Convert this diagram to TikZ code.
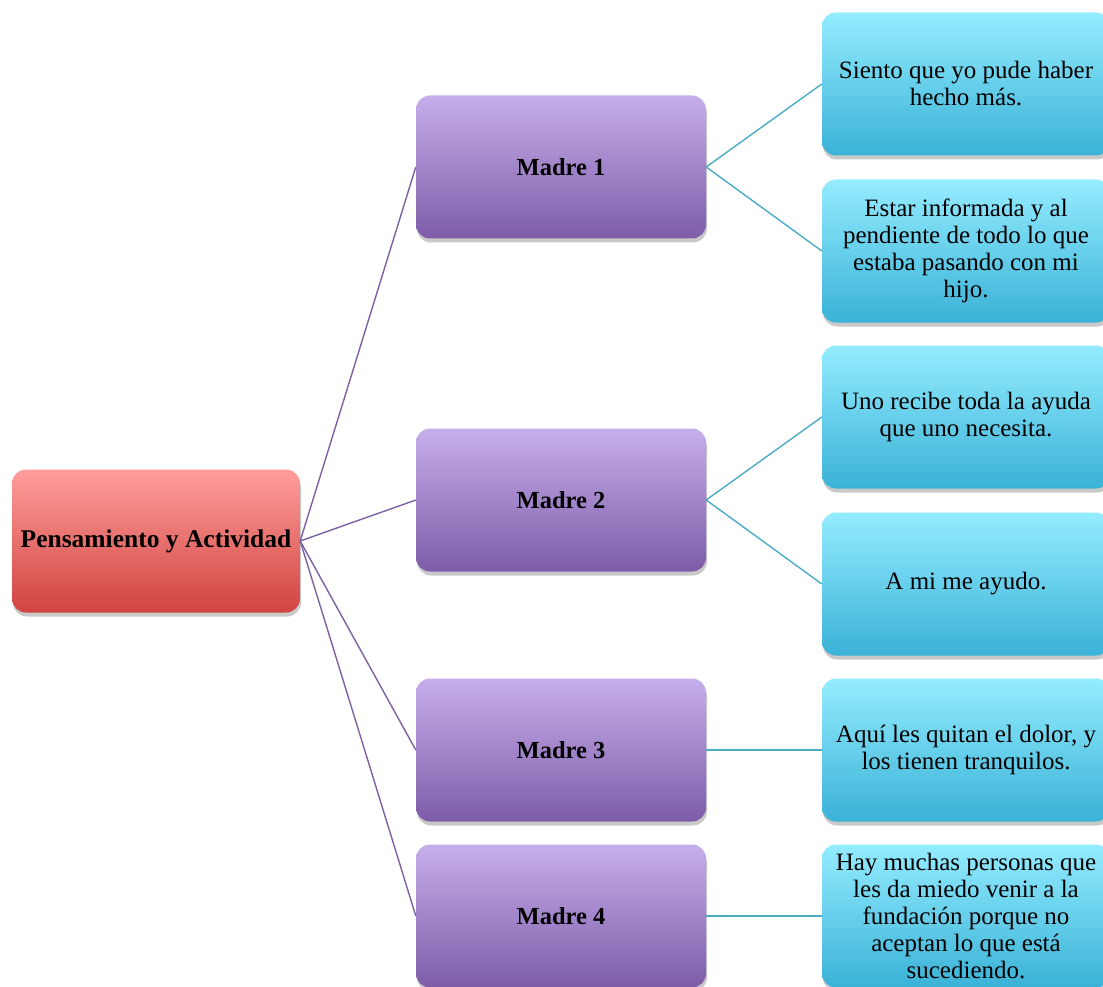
\documentclass[tikz,border=0pt]{standalone}
\usepackage{fontspec}
\setmainfont{Liberation Serif}
\usetikzlibrary{shadows}
\definecolor{rtop}{HTML}{FF9D9B}
\definecolor{rbot}{HTML}{D04440}
\definecolor{mtop}{HTML}{C6AEEB}
\definecolor{mbot}{HTML}{7E5CA8}
\definecolor{ltop}{HTML}{94ECFF}
\definecolor{lbot}{HTML}{3AB2D7}
\definecolor{pline}{HTML}{7B62A3}
\definecolor{bline}{HTML}{4BACC6}
\tikzset{
  box/.style={rounded corners=14pt, minimum height=143pt, align=center,
    drop shadow={shadow xshift=1pt, shadow yshift=-4pt, opacity=0.3, fill=black!70},
    font=\fontsize{25}{27}\selectfont},
  rootbox/.style={box, minimum width=288pt, top color=rtop, bottom color=rbot, font=\bfseries\fontsize{25.5}{27}\selectfont},
  madrebox/.style={box, minimum width=290pt, top color=mtop, bottom color=mbot, font=\bfseries\fontsize{24.5}{27}\selectfont},
  leafbox/.style={box, minimum width=288pt, top color=ltop, bottom color=lbot},
  pconn/.style={draw=pline, line width=1.4pt},
  bconn/.style={draw=bline, line width=1.4pt},
}
\begin{document}
\begin{tikzpicture}[x=1pt,y=-1pt]
\useasboundingbox (0,0) rectangle (1103,987);
\begin{scope}
\clip (0,0) rectangle (1103,987);
\node[rootbox] (root) at (156,541) {Pensamiento y Actividad};
\node[madrebox] (m1) at (561,167) {Madre 1};
\node[madrebox] (m2) at (561,500) {Madre 2};
\node[madrebox] (m3) at (561,750) {Madre 3};
\node[madrebox] (m4) at (561,916) {Madre 4};
\node[leafbox] (l1) at (966,84) {Siento que yo pude haber\\hecho más.};
\node[leafbox] (l2) at (966,251) {Estar informada y al\\pendiente de todo lo que\\estaba pasando con mi\\hijo.};
\node[leafbox] (l3) at (966,417) {Uno recibe toda la ayuda\\que uno necesita.};
\node[leafbox] (l4) at (966,584) {A mi me ayudo.};
\node[leafbox] (l5) at (966,750) {Aquí les quitan el dolor, y\\los tienen tranquilos.};
\node[leafbox] (l6) at (966,916) {Hay muchas personas que\\les da miedo venir a la\\fundación porque no\\aceptan lo que está\\sucediendo.};
\draw[pconn] (root.east) -- (m1.west);
\draw[pconn] (root.east) -- (m2.west);
\draw[pconn] (root.east) -- (m3.west);
\draw[pconn] (root.east) -- (m4.west);
\draw[bconn] (m1.east) -- (l1.west);
\draw[bconn] (m1.east) -- (l2.west);
\draw[bconn] (m2.east) -- (l3.west);
\draw[bconn] (m2.east) -- (l4.west);
\draw[bconn] (m3.east) -- (l5.west);
\draw[bconn] (m4.east) -- (l6.west);
\end{scope}
\end{tikzpicture}
\end{document}
